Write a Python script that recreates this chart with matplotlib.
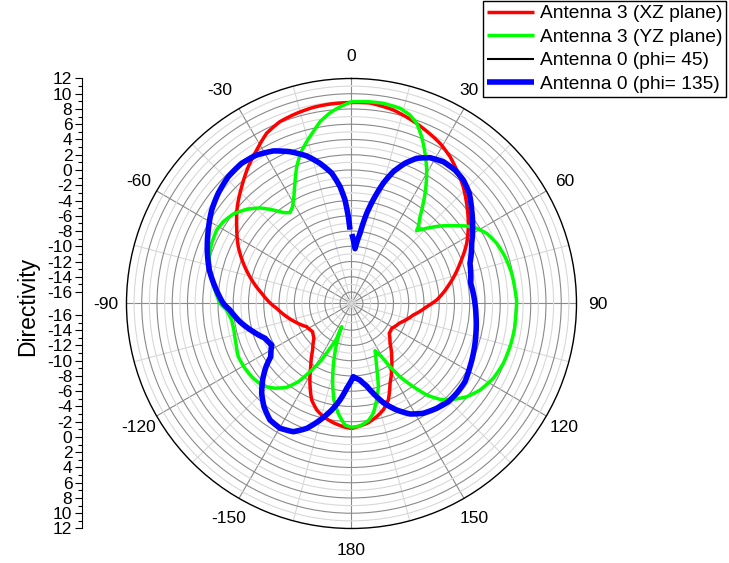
import numpy as np
import matplotlib.pyplot as plt

plt.rcParams['font.family'] = ['Liberation Sans', 'DejaVu Sans']

R_MIN = -17.5   # value at the centre
R_MAX = 12

# Antenna 3, XZ plane (angle in deg, directivity)
red_deg = [-180, -176.2, -171.3, -166, -161.9, -157.6, -152.5, -147.2, -140.2, -132.9,
           -126, -117.4, -109.3, -101.5, -93.7, -90, -83.5, -76.7, -69.6, -63.4, -56.2,
           -49.7, -43.2, -37, -31.7, -26.5, -21.5, -16.1, -11, -6.15, 0, 5.3, 12.2, 19.9,
           28.9, 33.9, 38.2, 43.7, 49, 56.7, 62.4, 69.7, 78.4, 87.7, 92.4, 100.5, 111.6,
           121.7, 128.3, 135.9, 142.9, 147.5, 154.2, 159.1, 163.4, 167.5, 172, 176, 180]
red_db = [-1.12, -1.31, -1.69, -2.21, -2.82, -3.81, -5.7, -7.64, -9.55, -10.79,
          -11.2, -10.88, -9.88, -8.83, -7.67, -6.9, -5.65, -4.06, -2.37, -0.9, 0.61,
          2.13, 3.52, 4.97, 6.15, 7.44, 8.12, 8.45, 8.7, 8.8, 8.85, 8.9, 8.46, 7.6,
          6.5, 5.68, 4.8, 3.7, 2.5, 0.83, -0.45, -2.33, -4.32, -6.33, -7.63, -9.25, -10.66,
          -11.3, -11.19, -10.24, -8.75, -7.68, -5.88, -3.96, -2.93, -2.29, -1.71, -1.4, -1.12]

# Antenna 3, YZ plane
green_deg = [-180, -176.9, -173.1, -169.7, -166.7, -163.9, -160.3, -157.7, -157.1, -157,
             -154.4, -151.6, -148.7, -145.8, -142.3, -137.9, -133.1, -127.3, -121.3,
             -115.2, -109, -102.7, -97.8, -93, -90, -84.4, -77.9, -71.8, -66.7, -61.4,
             -57.5, -52.9, -48, -43.8, -39.9, -36.9, -34.1, -31.3, -28.3, -25.2, -21.8,
             -18.7, -15.5, -12.5, -9.8, -6.4, -3.3, 0, 4.3, 9, 14, 17.2, 19.9, 22.8, 26.1,
             29.4, 32.5, 35.6, 38.3, 41, 41.8, 45, 48.8, 52.6, 56.1, 59, 62.6, 67.5, 73,
             79.3, 85.3, 88.8, 93.4, 99.2, 105.2, 111.5, 117.8, 124, 129, 133.3, 137.3,
             140.6, 143.4, 146.5, 148.6, 150.4, 153.5, 156.6, 159.7, 162.1, 165.4, 168.8,
             171.8, 176, 180]
green_db = [-1.27, -1.54, -3.0, -4.64, -6.75, -8.87, -11.48, -13.28, -14.2, -12.54,
            -10.98, -8.82, -7.04, -5.1, -3.61, -2.53, -1.66, -1.32, -1.15,
            -1.1, -1.48, -1.7, -1.64, -1.11, -0.26, 0.49, 1.38, 2.13, 2.46, 2.63,
            2.44, 1.94, 0.97, -0.15, -1.52, -2.6, -3.12, -2.64, -1.6, -0.09, 1.83,
            3.3, 4.51, 5.58, 6.69, 7.67, 8.34, 8.95, 9.04, 9.08, 8.87, 8.38, 7.62, 6.23, 4.42,
            2.59, 0.66, -1.33, -3.0, -4.15, -4.69, -3.56, -2.08, -0.7, 0.7, 1.64, 2.47, 3.11, 3.54,
            3.87, 4.02, 4.16, 4.11, 4.13, 4.04, 3.9, 3.52, 2.81, 1.93, 0.83, -0.4,
            -1.98, -3.92, -5.99, -7.8, -9.48, -10.59, -9.42, -7.75, -6.04, -4.43, -2.82,
            -1.98, -1.4, -1.27]

# Antenna 0, phi = 135 (0..360 deg, small break just left of 0)
blue_deg = [0.3, 3.7, 6.9, 9.6, 12.4, 14.8, 17.6, 20.9, 24.2, 28.3, 32.9, 37.8, 42.2,
            46.9, 52.1, 57.6, 63.4, 71.3, 80.4, 90, 96, 103.5, 110.8, 118.1, 124.6,
            130.5, 135.4, 140.9, 146.8, 152.1, 157, 162.2, 165.6, 169.6, 173.7, 178.6,
            183.2, 186.8, 190.5, 195.1, 199.7, 204.4, 209.8, 215, 220.3, 225, 229.3,
            233.5, 236.6, 242.5, 248.1, 254, 260.7, 266.9, 270, 277, 283.3, 290.4, 297.2,
            303.8, 309.6, 315.8, 321.9, 327.4, 332.9, 337.9, 343.1, 347.3, 351.4, 354.4,
            356.4, 357.9, 358.8]
blue_db = [-8.4, -10.3, -8.23, -5.5, -3.16, -1.2, 0.63, 2.18, 3.37, 4.21, 4.64, 4.64, 4.34,
           3.65, 2.47, 1.31, 0.12, -1.1, -1.65, -1.31, -1.08, -0.72, -0.32, 0.11, 0.57,
           0.63, 0.58, 0.21, -0.3, -1.11, -2.33, -3.84, -5.11, -6.5, -7.4, -7.9,
           -6.37, -4.76, -3.3, -1.67, -0.11, 0.96, 1.35, 1.14, 0.24, -0.85, -2.13,
           -3.56, -4.82, -5.7, -5.28, -4.1, -2.68, -1.54, -0.69, 0.53, 1.66, 2.67, 3.61,
           4.55, 5.17, 5.68, 5.85, 5.6, 4.97, 3.98, 2.72, 1.34, -0.23, -2.11,
           -3.9, -6.1, -7.8]

# Antenna 0, phi = 45 (lies under the phi = 135 trace)
black_deg = blue_deg
black_db = blue_db

theta_ticks = [0, 30, 60, 90, 120, 150, 180, 210, 240, 270, 300, 330]
theta_labels = ['0', '30', '60', '90', '120', '150', '180', '-150', '-120', '-90', '-60', '-30']
left_vals = list(range(12, -17, -2))

fig = plt.figure(figsize=(7.29, 5.63), dpi=100)
pos = [0.1735, 0.0613, 0.6173, 0.7993]
ax = fig.add_axes(pos, projection='polar')
ax.set_theta_zero_location('N')
ax.set_theta_direction(-1)
ax.set_ylim(R_MIN, R_MAX)

ax.set_yticks(np.arange(-16, 11, 2))
ax.set_yticks(np.arange(-17, 12, 2), minor=True)
ax.set_yticklabels([])
ax.set_xticks(np.deg2rad(theta_ticks))
ax.set_xticklabels([])
ax.set_xticks(np.deg2rad(np.arange(15, 360, 30)), minor=True)
ax.grid(True, which='major', color='#8a8a8a', lw=0.8)
ax.grid(True, which='minor', color='#d8d8d8', lw=0.8)
ax.tick_params(axis='x', which='both', direction='in', length=5)
ax.tick_params(axis='y', which='both', length=0)
ax.spines['polar'].set_linewidth(1.0)

# angle labels, set a little outside the rim (Origin style placement)
for t, lab in zip(theta_ticks, theta_labels):
    tt, rr = t, 14.75
    if lab == '0':
        rr = 15.1
    elif lab == '30':
        tt, rr = 28.6, 14.55
    elif lab == '-30':
        tt, rr = 328.4, 15.45
    ax.text(np.deg2rad(tt), rr, lab, ha='center', va='center_baseline',
            fontsize=12.5, clip_on=False)

series = [
    (red_deg, red_db, '#ff0000', 2.5, 'Antenna 3 (XZ plane)'),
    (green_deg, green_db, '#00ff00', 2.5, 'Antenna 3 (YZ plane)'),
    (black_deg, black_db, 'black', 1.5, 'Antenna 0 (phi= 45)'),
    (blue_deg, blue_db, '#0000ff', 4, 'Antenna 0 (phi= 135)'),
]
for deg, db, col, lw, lab in series:
    ln, = ax.plot(np.deg2rad(deg), db, color=col, lw=lw, label=lab,
                  solid_joinstyle='round', solid_capstyle='butt')
    # draw each segment along the polar grid instead of as a chord
    ln.get_path()._interpolation_steps = 16

# linear directivity scale on the left, mirrored about the centre
lax = fig.add_axes([82 / 729, pos[1], 0.0001, pos[3]])
span = R_MAX - R_MIN
lax.set_ylim(-span, span)
major_pos = [v - R_MIN for v in left_vals] + [-(v - R_MIN) for v in left_vals]
major_lab = [str(v) for v in left_vals] * 2
minor_pos = [v - R_MIN for v in range(11, -17, -2)] + [-(v - R_MIN) for v in range(11, -17, -2)]
lax.set_yticks(major_pos)
lax.set_yticklabels(major_lab)
lax.set_yticks(minor_pos, minor=True)
lax.set_xticks([])
for s in ['top', 'right', 'bottom']:
    lax.spines[s].set_visible(False)
lax.spines['left'].set_linewidth(0.8)
lax.tick_params(axis='y', which='major', length=5, width=0.8, labelsize=12.5, pad=2)
lax.tick_params(axis='y', which='minor', length=3, width=0.8)
lax.patch.set_visible(False)

fig.text(28 / 729, 1 - 306 / 563, 'Directivity', rotation=90, ha='center', va='center', fontsize=16.5)

leg = fig.legend(loc='upper right', bbox_to_anchor=(726 / 729, 1 - 1 / 563), frameon=True,
                 fancybox=False, edgecolor='black', framealpha=1, fontsize=13.8,
                 handlelength=2.45, handletextpad=0.3, borderpad=0.2, labelspacing=0.32,
                 borderaxespad=0)
leg.get_frame().set_linewidth(1.0)

fig.savefig('out.png', dpi=100)
